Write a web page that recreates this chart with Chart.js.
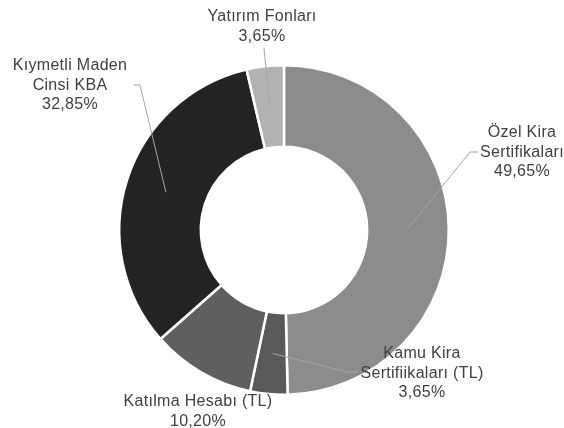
<!DOCTYPE html>
<html>
<head>
<meta charset="utf-8">
<script src="https://cdn.jsdelivr.net/npm/chart.js@4.4.1/dist/chart.umd.min.js"></script>
<style>
  html, body { margin: 0; padding: 0; background: #ffffff; }
  #wrap { width: 564px; height: 428px; }
</style>
</head>
<body>
<div id="wrap"><canvas id="portfolioDonut" width="564" height="428"></canvas></div>
<script>
// data (percent of portfolio)
const categories = [
  'Özel Kira Sertifikaları',
  'Kamu Kira Sertifiikaları (TL)',
  'Katılma Hesabı (TL)',
  'Kıymetli Maden Cinsi KBA',
  'Yatırım Fonları'
];
const shares = [49.65, 3.65, 10.20, 32.85, 3.65];
const labelLines = [
  ['Özel Kira', 'Sertifikaları'],
  ['Kamu Kira', 'Sertifiikaları (TL)'],
  ['Katılma Hesabı (TL)'],
  ['Kıymetli Maden', 'Cinsi KBA'],
  ['Yatırım Fonları']
];
const sliceColors = ['#8c8c8c', '#595959', '#5f5f5f', '#232323', '#b2b2b2'];

// where each label sits and how its leader line bends (null = no leader)
const labelLayout = [
  { x: 522, y: 133, elbow: [470, 152], end: [478, 152] },
  { x: 422, y: 354, elbow: [347, 372], end: [358, 372] },
  { x: 198, y: 402, elbow: null, end: null },
  { x: 70, y: 66, elbow: [140, 85], end: [134, 85] },
  { x: 262, y: 17, elbow: null, end: [264, 48] }
];

const fmtPct = v => v.toFixed(2).replace('.', ',') + '%';

const outsideLabels = {
  id: 'outsideLabels',
  afterDatasetsDraw(chart) {
    const { ctx } = chart;
    const meta = chart.getDatasetMeta(0);
    ctx.save();
    // leader lines
    ctx.strokeStyle = '#a6a6a6';
    ctx.lineWidth = 1;
    meta.data.forEach((arc, i) => {
      const lay = labelLayout[i];
      if (!lay.end) return;
      const p = arc.tooltipPosition();
      ctx.beginPath();
      ctx.moveTo(p.x, p.y);
      if (lay.elbow) ctx.lineTo(lay.elbow[0], lay.elbow[1]);
      ctx.lineTo(lay.end[0], lay.end[1]);
      ctx.stroke();
    });
    // texts
    ctx.fillStyle = '#404040';
    ctx.font = "16px 'Liberation Sans', Arial, sans-serif";
    ctx.letterSpacing = '0.3px';
    ctx.textAlign = 'center';
    ctx.textBaseline = 'middle';
    const lh = 19.5;
    meta.data.forEach((arc, i) => {
      const lay = labelLayout[i];
      const lines = labelLines[i].concat([fmtPct(shares[i])]);
      lines.forEach((t, k) => ctx.fillText(t, lay.x, lay.y + k * lh));
    });
    ctx.restore();
  }
};

new Chart(document.getElementById('portfolioDonut'), {
  type: 'doughnut',
  data: {
    labels: categories,
    datasets: [{
      data: shares,
      backgroundColor: sliceColors,
      borderColor: '#ffffff',
      borderWidth: 2.5
    }]
  },
  options: {
    responsive: false,
    animation: false,
    cutout: '50.5%',
    layout: {
      padding: { top: 64, bottom: 32, left: 104, right: 100 }
    },
    plugins: {
      legend: { display: false },
      tooltip: { enabled: false }
    }
  },
  plugins: [outsideLabels]
});
</script>
</body>
</html>
